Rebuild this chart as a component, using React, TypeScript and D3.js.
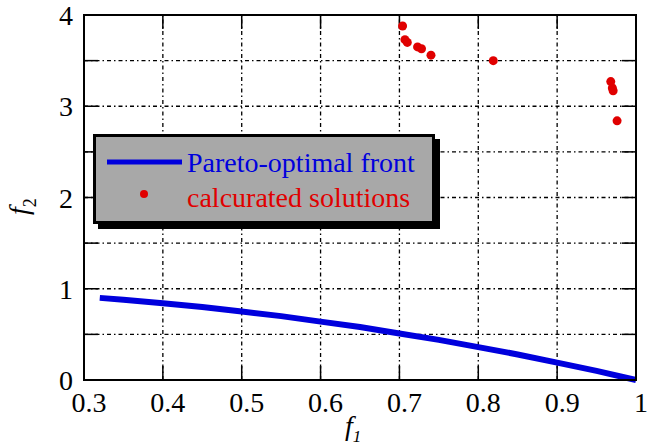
import React from 'react';
import * as d3 from 'd3';

// Pareto-optimal front
const frontF1 = [0.32, 0.35, 0.4, 0.45, 0.5, 0.55, 0.6, 0.65, 0.7, 0.75, 0.8, 0.85, 0.9, 0.95, 1.0];
const frontF2 = [0.9, 0.88, 0.84, 0.8, 0.75, 0.7, 0.64, 0.58, 0.51, 0.44, 0.36, 0.28, 0.19, 0.1, 0.0];

// calcurated solutions
const solF1 = [0.704, 0.707, 0.71, 0.723, 0.728, 0.74, 0.819, 0.968, 0.97, 0.971, 0.976];
const solF2 = [3.88, 3.73, 3.7, 3.65, 3.63, 3.56, 3.5, 3.27, 3.2, 3.17, 2.84];

const xTicks = [0.3, 0.4, 0.5, 0.6, 0.7, 0.8, 0.9, 1.0];
const xTickLabels = ['0.3', '0.4', '0.5', '0.6', '0.7', '0.8', '0.9', '1'];
const yTicks = [0, 0.5, 1, 1.5, 2, 2.5, 3, 3.5, 4];
const yTickLabels = ['0', '1', '2', '3', '4'];

const W = 654;
const H = 445;
const margin = { top: 15, right: 18, bottom: 65, left: 84 };
const serif = { fontFamily: "'Liberation Serif', 'DejaVu Serif', serif" };
const gridDash = '4,3,1.5,3';

export default function App() {
  const x = d3.scaleLinear().domain([0.3, 1]).range([margin.left, W - margin.right]);
  const y = d3.scaleLinear().domain([0, 4]).range([H - margin.bottom, margin.top]);
  const [x0, x1] = x.range();
  const [y0, y1] = y.range();
  const tick = 14;

  const front = frontF1.map((d, i) => [d, frontF2[i]] as [number, number]);
  const line = d3.line<[number, number]>().x(d => x(d[0])).y(d => y(d[1]));

  return (
    <svg width={W} height={H} style={{ position: 'absolute', left: 0, top: 0, display: 'block', background: '#fff' }}>
      {/* grid */}
      {xTicks.slice(1, -1).map(t => (
        <line key={'gx' + t} x1={x(t)} x2={x(t)} y1={y0} y2={y1} stroke="#000" strokeWidth={1.3} strokeDasharray={gridDash} />
      ))}
      {yTicks.slice(1, -1).map(t => (
        <line key={'gy' + t} x1={x0} x2={x1} y1={y(t)} y2={y(t)} stroke="#000" strokeWidth={1.3} strokeDasharray={gridDash} />
      ))}
      {/* inward ticks on all four sides */}
      {xTicks.slice(1, -1).map(t => (
        <g key={'tx' + t} stroke="#000" strokeWidth={1.5}>
          <line x1={x(t)} x2={x(t)} y1={y0} y2={y0 - tick} />
          <line x1={x(t)} x2={x(t)} y1={y1} y2={y1 + tick} />
        </g>
      ))}
      {yTicks.slice(1, -1).map(t => (
        <g key={'ty' + t} stroke="#000" strokeWidth={1.5}>
          <line x1={x0} x2={x0 + tick} y1={y(t)} y2={y(t)} />
          <line x1={x1} x2={x1 - tick} y1={y(t)} y2={y(t)} />
        </g>
      ))}
      {/* front */}
      <path d={line(front) ?? ''} fill="none" stroke="#0000dd" strokeWidth={6} />
      {/* solutions */}
      {solF1.map((d, i) => (
        <circle key={'s' + i} cx={x(d)} cy={y(solF2[i])} r={4.5} fill="#e00000" />
      ))}
      {/* frame */}
      <rect x={x0} y={y1} width={x1 - x0} height={y0 - y1} fill="none" stroke="#000" strokeWidth={2} />
      {/* tick labels */}
      {xTicks.map((t, i) => (
        <text key={'lx' + t} x={x(t) + 5} y={412} textAnchor="middle" fontSize={28} fill="#000" style={serif}>{xTickLabels[i]}</text>
      ))}
      {yTickLabels.map(l => (
        <text key={'ly' + l} x={73} y={y(+l) + 10} textAnchor="end" fontSize={28} fill="#000" style={serif}>{l}</text>
      ))}
      {/* axis titles */}
      <text x={345} y={435} fontSize={28} fontStyle="italic" fill="#000" style={serif}>
        f<tspan dy={7} fontSize={17}>1</tspan>
      </text>
      <text transform="translate(28,215) rotate(-90)" fontSize={28} fontStyle="italic" fill="#000" style={serif}>
        f<tspan dy={8} fontSize={18} fontStyle="normal">2</tspan>
      </text>
      {/* legend */}
      <g>
        <rect x={98} y={139} width={342} height={90} fill="#000" />
        <rect x={94.5} y={135.5} width={339} height={87} fill="#a8a8a8" stroke="#000" strokeWidth={3} />
        <line x1={107} x2={182} y1={162} y2={162} stroke="#0000dd" strokeWidth={5} />
        <text x={187} y={172} fontSize={28} fill="#0000dd" style={serif}>Pareto-optimal front</text>
        <circle cx={144} cy={194} r={4} fill="#e00000" />
        <text x={187} y={207} fontSize={28} fill="#e00000" style={serif}>calcurated solutions</text>
      </g>
    </svg>
  );
}
